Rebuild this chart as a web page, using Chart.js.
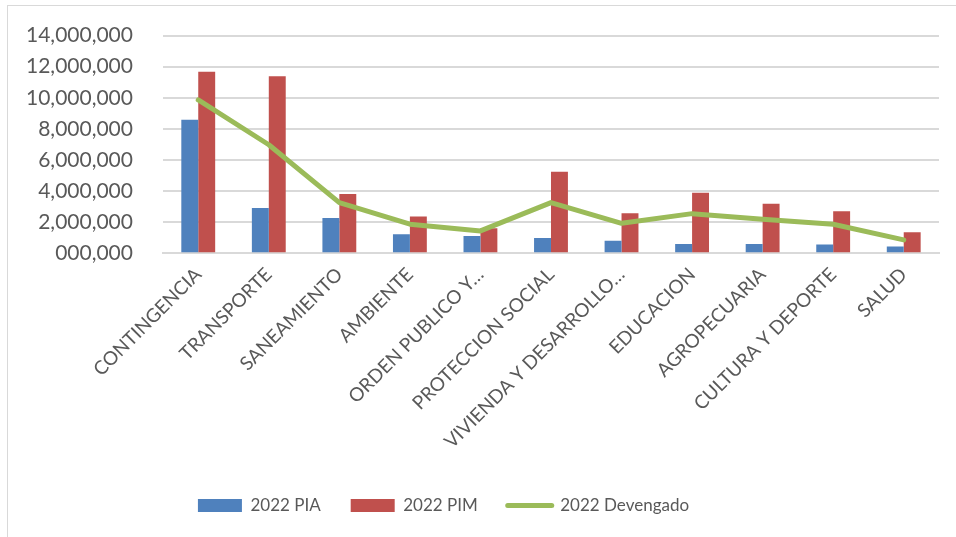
<!DOCTYPE html>
<html>
<head>
<meta charset="utf-8">
<script src="https://cdn.jsdelivr.net/npm/chart.js@4"></script>
<style>
  html, body { margin: 0; padding: 0; background: #fff; }
  .frame {
    position: absolute; left: 7px; top: 5px; width: 960px; height: 540px;
    border: 1.5px solid #d9d9d9; box-sizing: border-box;
  }
  .frame canvas { position: absolute; left: 0; top: -13px; }
</style>
</head>
<body>
<div class="frame"><canvas id="budgetChart" width="949" height="547"></canvas></div>
<script>
const categories = [
  'CONTINGENCIA', 'TRANSPORTE', 'SANEAMIENTO', 'AMBIENTE', 'ORDEN PUBLICO Y…',
  'PROTECCION SOCIAL', 'VIVIENDA Y DESARROLLO…', 'EDUCACION', 'AGROPECUARIA',
  'CULTURA Y DEPORTE', 'SALUD'
];
const pia2022 = [8590000, 2920000, 2270000, 1220000, 1110000, 990000, 810000, 600000, 600000, 560000, 430000];
const pim2022 = [11680000, 11380000, 3820000, 2360000, 1610000, 5240000, 2580000, 3900000, 3180000, 2710000, 1350000];
const devengado2022 = [9860000, 6980000, 3260000, 1870000, 1440000, 3260000, 1930000, 2550000, 2190000, 1870000, 860000];
const yTickLabels = ['000,000', '2,000,000', '4,000,000', '6,000,000', '8,000,000', '10,000,000', '12,000,000', '14,000,000'];

const canvas = document.getElementById('budgetChart');
const fontFamily = 'Lato, "Open Sans", sans-serif';
const textColor = '#595959';

// nudge the legend a bit left, like the original sheet
const legendShift = {
    id: 'legendShift',
    beforeDraw: function (chart) {
        const lg = chart.legend;
        if (!lg || lg._shifted) return;
        lg.left -= 24;
        lg.right -= 24;
        lg._shifted = true;
    }
};

new Chart(canvas, {
    type: 'bar',
    data: {
        labels: categories,
        datasets: [
            {
                label: '2022 PIA',
                data: pia2022,
                backgroundColor: '#4F81BD',
                barPercentage: 1,
                categoryPercentage: 0.48,
                order: 2
            },
            {
                label: '2022 PIM',
                data: pim2022,
                backgroundColor: '#C0504D',
                barPercentage: 1,
                categoryPercentage: 0.48,
                order: 2
            },
            {
                type: 'line',
                label: '2022 Devengado',
                data: devengado2022,
                borderColor: '#9BBB59',
                backgroundColor: '#9BBB59',
                borderWidth: 5,
                pointRadius: 0,
                borderCapStyle: 'round',
                borderJoinStyle: 'round',
                tension: 0,
                order: 1
            }
        ]
    },
    plugins: [legendShift],
    options: {
        responsive: false,
        animation: false,
        layout: { padding: { left: -12, right: 18, top: 0, bottom: 16 } },
        scales: {
            x: {
                grid: { display: false },
                border: { color: '#d9d9d9', width: 2 },
                ticks: {
                    color: textColor,
                    font: { family: fontFamily, size: 19 },
                    maxRotation: 45,
                    minRotation: 45,
                    autoSkip: false,
                    padding: 2
                }
            },
            y: {
                min: 0,
                max: 14000000,
                grid: { color: '#d9d9d9', lineWidth: 2, drawTicks: false },
                border: { display: false },
                ticks: {
                    stepSize: 2000000,
                    autoSkip: false,
                    color: textColor,
                    font: { family: fontFamily, size: 21 },
                    padding: 30,
                    callback: function (value, index) {
                        return yTickLabels[index];
                    }
                }
            }
        },
        plugins: {
            legend: {
                position: 'bottom',
                title: { display: true, text: ' ', font: { size: 10 }, padding: 0 },
                labels: {
                    color: textColor,
                    font: { family: fontFamily, size: 17 },
                    usePointStyle: true,
                    pointStyleWidth: 44,
                    boxHeight: 13,
                    padding: 30,
                    sort: function (a, b) { return a.datasetIndex - b.datasetIndex; },
                    generateLabels: function (chart) {
                        const items = Chart.defaults.plugins.legend.labels.generateLabels(chart);
                        items.forEach(function (item) {
                            if (item.datasetIndex === 2) {
                                item.pointStyle = 'line';
                                item.lineWidth = 5;
                                item.lineCap = 'round';
                                item.strokeStyle = '#9BBB59';
                            } else {
                                item.pointStyle = 'rect';
                                item.lineWidth = 0;
                            }
                        });
                        return items;
                    }
                }
            },
            tooltip: { enabled: false }
        }
    }
});
</script>
</body>
</html>
